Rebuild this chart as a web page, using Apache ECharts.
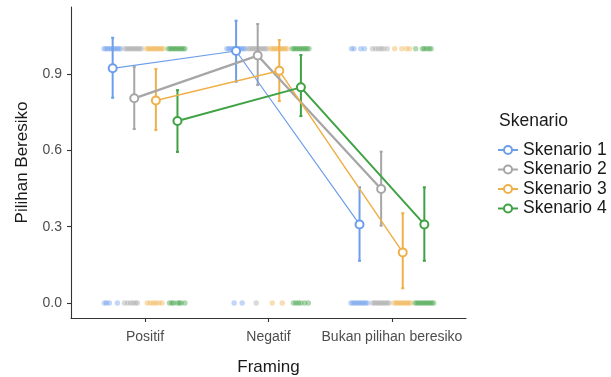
<!DOCTYPE html>
<html>
<head>
<meta charset="utf-8">
<script src="https://cdn.jsdelivr.net/npm/echarts@6/dist/echarts.min.js"></script>
<style>
  html, body { margin: 0; padding: 0; background: #fff; }
  #chart { width: 611px; height: 377px; }
</style>
</head>
<body>
<div id="chart"></div>
<script>
// categories and scenarios
const categories = ['Positif', 'Negatif', 'Bukan pilihan beresiko'];
const scenarios = ['Skenario 1', 'Skenario 2', 'Skenario 3', 'Skenario 4'];
const yTicks = [0, 0.3, 0.6, 0.9];

// mean proportion and CI per scenario (Positif, Negatif, Bukan)
const mean1 = [0.923, 0.991, 0.309];
const low1 = [0.807, 0.870, 0.166];
const high1 = [1.043, 1.110, 0.455];

const mean2 = [0.805, 0.973, 0.448];
const low2 = [0.684, 0.857, 0.304];
const high2 = [0.929, 1.097, 0.595];

const mean3 = [0.796, 0.913, 0.199];
const low3 = [0.680, 0.794, 0.058];
const high3 = [0.920, 1.034, 0.353];

const mean4 = [0.716, 0.848, 0.309];
const low4 = [0.594, 0.735, 0.166];
const high4 = [0.837, 0.975, 0.455];

// raw answers (jittered) – offsets from the dodged position, per category
const ones1 = [
  [-0.07, -0.055, -0.04, -0.025, -0.01, 0.005, 0.02, 0.035, 0.05, 0.065],
  [-0.075, -0.06, -0.045, -0.03, -0.015, 0, 0.015, 0.03, 0.045, 0.06, 0.075],
  [-0.065, -0.045, 0.01, 0.04]
];
const zeros1 = [
  [-0.067, -0.05, -0.027, 0.038],
  [-0.016, 0.049],
  [-0.07, -0.055, -0.04, -0.025, -0.01, 0.005, 0.02, 0.035, 0.05, 0.065]
];
const ones2 = [
  [-0.075, -0.06, -0.045, -0.03, -0.015, 0, 0.015, 0.03, 0.045, 0.06],
  [-0.075, -0.06, -0.045, -0.03, -0.015, 0, 0.015, 0.03, 0.045, 0.06, 0.075],
  [-0.07, -0.045, -0.02, 0.0, 0.02, 0.05]
];
const zeros2 = [
  [-0.08, -0.055, -0.03, -0.01, 0.01, 0.025],
  [-0.012],
  [-0.07, -0.055, -0.04, -0.025, -0.01, 0.005, 0.02, 0.035, 0.05, 0.065]
];
const ones3 = [
  [-0.075, -0.06, -0.045, -0.03, -0.015, 0, 0.015, 0.03, 0.045, 0.06],
  [-0.07, -0.055, -0.04, -0.025, -0.01, 0.005, 0.02, 0.035, 0.05, 0.065],
  [-0.065, -0.008, 0.03, 0.057]
];
const zeros3 = [
  [-0.07, -0.045, -0.02, 0.0, 0.025, 0.05],
  [-0.057, 0.024],
  [-0.07, -0.055, -0.04, -0.025, -0.01, 0.005, 0.02, 0.035, 0.05, 0.065]
];
const ones4 = [
  [-0.075, -0.06, -0.045, -0.03, -0.015, 0, 0.015, 0.03, 0.045, 0.06],
  [-0.07, -0.055, -0.04, -0.025, -0.01, 0.005, 0.02, 0.035, 0.05, 0.065],
  [-0.07, -0.015, 0.0, 0.02, 0.04, 0.055]
];
const zeros4 = [
  [-0.065, -0.045, -0.03, 0.0, 0.015, 0.03, 0.06],
  [-0.06, -0.04, -0.02, 0.0, 0.03, 0.06],
  [-0.075, -0.06, -0.045, -0.03, -0.015, 0, 0.015, 0.03, 0.045, 0.06, 0.075]
];

const colors = ['#6d9eeb', '#a6a6a6', '#efb04a', '#3fa244'];
const lineWidths = [1.2, 2.3, 1.5, 2];
const dodge = [-0.2625, -0.0875, 0.0875, 0.2625];

const means = [mean1, mean2, mean3, mean4];
const lows = [low1, low2, low3, low4];
const highs = [high1, high2, high3, high4];
const ones = [ones1, ones2, ones3, ones4];
const zeros = [zeros1, zeros2, zeros3, zeros4];

const font = '"Liberation Sans", Arial, sans-serif';

const chart = echarts.init(document.getElementById('chart'), null, { renderer: 'canvas' });

const series = [];

// jittered raw points
scenarios.forEach((name, s) => {
  const pts = [];
  categories.forEach((c, i) => {
    ones[s][i].forEach(o => pts.push([i + 1 + dodge[s] + o, 1]));
    zeros[s][i].forEach(o => pts.push([i + 1 + dodge[s] + o, 0]));
  });
  series.push({
    name: 'raw' + (s + 1),
    type: 'scatter',
    data: pts,
    symbol: 'circle',
    symbolSize: 5.5,
    itemStyle: { color: colors[s], opacity: 0.42 },
    silent: true,
    z: 1
  });
});

// error bars
scenarios.forEach((name, s) => {
  const color = colors[s];
  series.push({
    name: 'err' + (s + 1),
    type: 'custom',
    data: categories.map((c, i) => [i + 1 + dodge[s], lows[s][i], highs[s][i]]),
    encode: { x: 0, y: [1, 2] },
    renderItem: (params, api) => {
      const x = api.value(0);
      const p1 = api.coord([x, api.value(1)]);
      const p2 = api.coord([x, api.value(2)]);
      const st = { stroke: color, lineWidth: 2 };
      return {
        type: 'group',
        children: [
          { type: 'line', shape: { x1: p1[0], y1: p1[1], x2: p2[0], y2: p2[1] }, style: st },
          { type: 'line', shape: { x1: p1[0] - 1.5, y1: p1[1], x2: p1[0] + 1.5, y2: p1[1] }, style: st },
          { type: 'line', shape: { x1: p2[0] - 1.5, y1: p2[1], x2: p2[0] + 1.5, y2: p2[1] }, style: st }
        ]
      };
    },
    silent: true,
    z: 2
  });
});

// mean lines with points
scenarios.forEach((name, s) => {
  series.push({
    name: name,
    type: 'line',
    data: categories.map((c, i) => [i + 1 + dodge[s], means[s][i]]),
    symbol: 'emptyCircle',
    symbolSize: 8,
    showAllSymbol: true,
    lineStyle: { color: colors[s], width: lineWidths[s] },
    itemStyle: { color: colors[s], borderColor: colors[s], borderWidth: 1 },
    z: 3
  });
});

const option = {
  animation: false,
  backgroundColor: '#fff',
  textStyle: { fontFamily: font },
  title: {
    text: 'Skenario',
    left: 494,
    top: 107,
    textStyle: { fontFamily: font, fontSize: 17.5, fontWeight: 'normal', color: '#1a1a1a' }
  },
  legend: {
    data: scenarios,
    orient: 'vertical',
    left: 492,
    top: 136,
    itemWidth: 20,
    itemHeight: 10,
    itemGap: 1.5,
    textStyle: { fontFamily: font, fontSize: 17.5, color: '#1a1a1a', lineHeight: 18 }
  },
  grid: { left: 71, right: 145, top: 7, bottom: 59, containLabel: false, outerBoundsMode: 'none' },
  xAxis: {
    type: 'value',
    min: 0.4,
    max: 3.6,
    name: 'Framing',
    nameLocation: 'middle',
    nameGap: 41,
    nameTextStyle: { fontFamily: font, fontSize: 17, color: '#1a1a1a' },
    axisLine: { onZero: false, lineStyle: { color: '#333', width: 1.1 } },
    axisTick: { customValues: [1, 2, 3], length: 4, lineStyle: { color: '#333', width: 1.1 } },
    axisLabel: {
      customValues: [1, 2, 3],
      formatter: v => categories[Math.round(v) - 1] || '',
      fontFamily: font, fontSize: 14, color: '#4d4d4d', margin: 12
    },
    splitLine: { show: false }
  },
  yAxis: {
    type: 'value',
    min: -0.059,
    max: 1.164,
    name: 'Pilihan Beresiko',
    nameLocation: 'middle',
    nameGap: 40,
    nameTextStyle: { fontFamily: font, fontSize: 17, color: '#1a1a1a' },
    axisLine: { onZero: false, lineStyle: { color: '#333', width: 1.1 } },
    axisTick: { customValues: yTicks, length: 4, lineStyle: { color: '#333', width: 1.1 } },
    axisLabel: {
      customValues: yTicks,
      formatter: v => v.toFixed(1),
      fontFamily: font, fontSize: 14, color: '#4d4d4d', margin: 9
    },
    splitLine: { show: false }
  },
  series: series
};

chart.setOption(option);
</script>
</body>
</html>
